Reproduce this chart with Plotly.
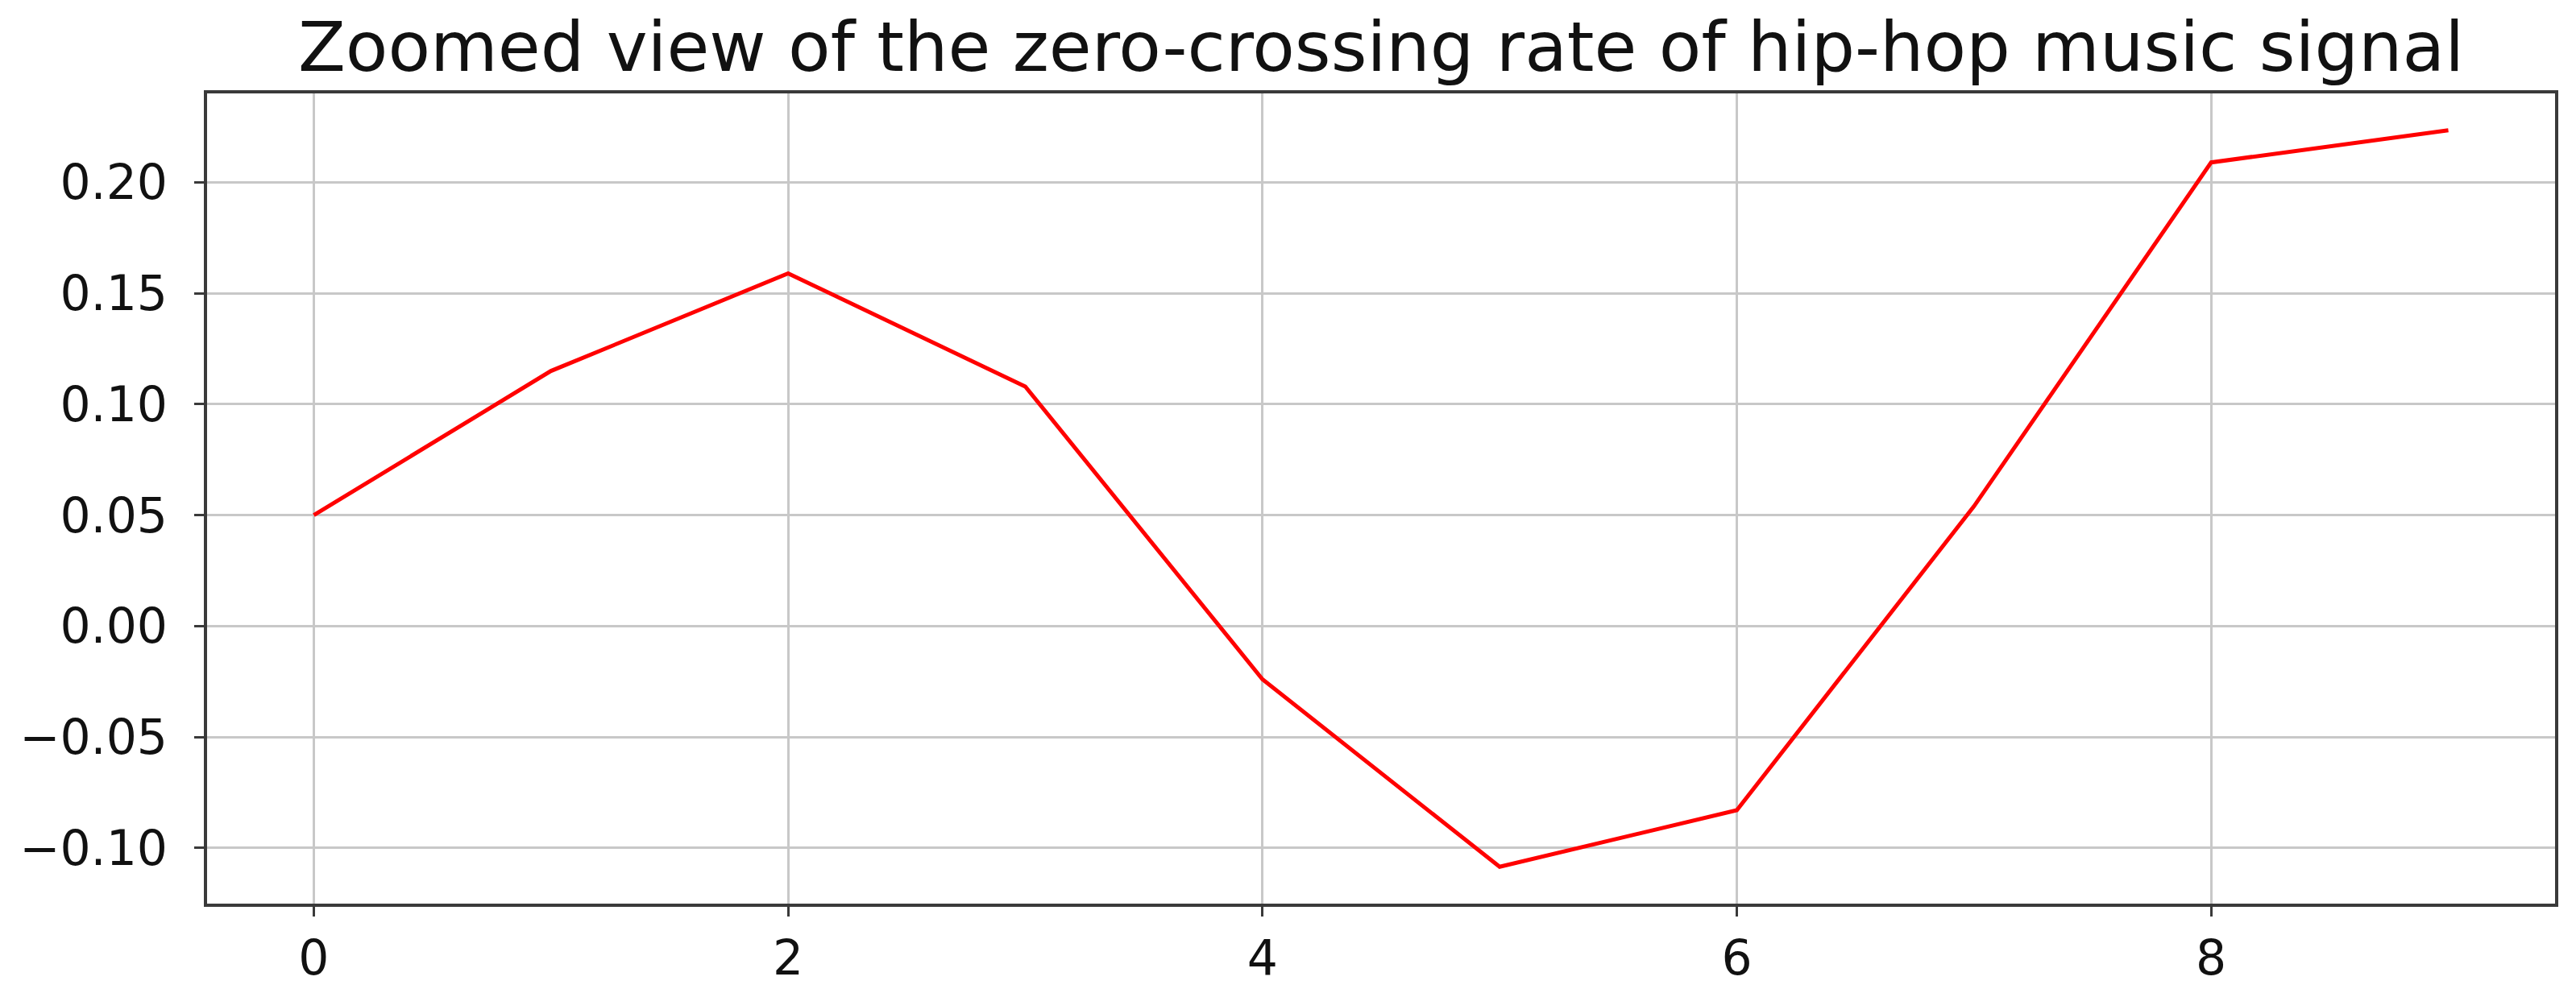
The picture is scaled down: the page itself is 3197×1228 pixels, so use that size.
import plotly.graph_objects as go

# Zero-crossing rate values (frame index -> rate)
FRAMES = [0, 1, 2, 3, 4, 5, 6, 7, 8, 9]
ZCR_VALUES = [0.050, 0.115, 0.159, 0.108, -0.024, -0.1085, -0.083, 0.054, 0.209, 0.2235]
X_TICKS = [0, 2, 4, 6, 8]
Y_TICKS = [-0.10, -0.05, 0.00, 0.05, 0.10, 0.15, 0.20]

FONT = "DejaVu Sans, Arial, sans-serif"

# matplotlib-style 5% margins around the data
def padded(lo, hi, frac=0.05):
    span = hi - lo
    return [lo - span * frac, hi + span * frac]

x_range = padded(min(FRAMES), max(FRAMES))
y_range = padded(min(ZCR_VALUES), max(ZCR_VALUES))

fig = go.Figure()
fig.add_trace(go.Scatter(
    x=FRAMES,
    y=ZCR_VALUES,
    mode="lines",
    line=dict(color="#ff0000", width=5),
    showlegend=False
))

axis_common = dict(
    showgrid=True,
    gridcolor="#c8c8c8",
    gridwidth=3,
    zeroline=False,
    showline=True,
    linecolor="#3a3a3a",
    linewidth=4,
    mirror=True,
    ticks="outside",
    ticklen=12,
    tickwidth=3,
    tickcolor="#3a3a3a",
    tickfont=dict(size=60, family=FONT, color="#111111"),
)

fig.update_layout(
    width=3197,
    height=1228,
    paper_bgcolor="white",
    plot_bgcolor="white",
    margin=dict(l=249, r=34, t=108, b=104),
    title=dict(
        text="Zoomed view of the zero-crossing rate of hip-hop music signal",
        font=dict(size=86, family=FONT, color="#111111"),
        x=0.5, xanchor="center",
        xref="paper",
        yref="paper", y=1, yanchor="bottom",
        pad=dict(b=28)
    ),
    xaxis=dict(axis_common, range=x_range, tickvals=X_TICKS,
               ticklabelstandoff=0),
    yaxis=dict(axis_common, range=y_range, tickvals=Y_TICKS,
               tickformat=".2f", ticklabelstandoff=21),
)

fig.write_html("out.html")
